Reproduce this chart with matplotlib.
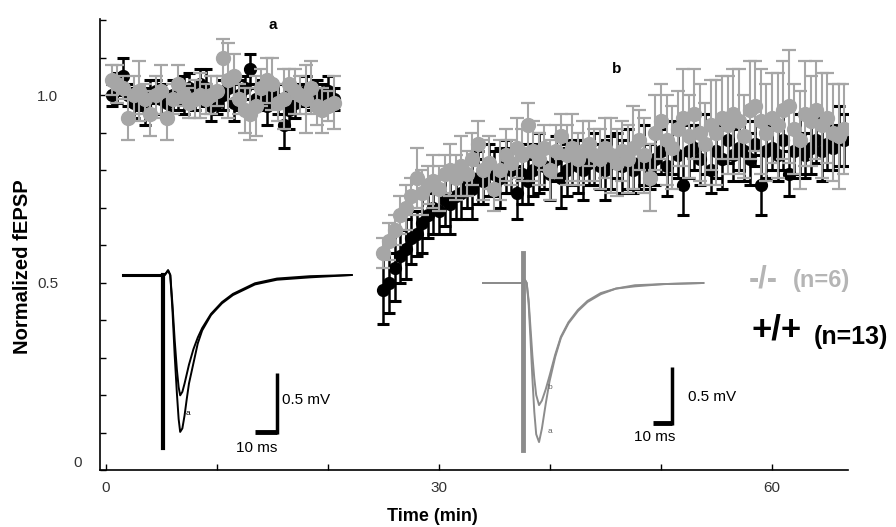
import numpy as np
import matplotlib
matplotlib.use('Agg')
import matplotlib.pyplot as plt

plt.rcParams['font.family'] = ['Liberation Sans', 'DejaVu Sans']

# ---- normalized fEPSP, sampled every 30 s ----
t_base = np.arange(0.5, 20.51, 0.5)
t_post = np.arange(25.0, 66.51, 0.5)

ko_base = [1.04, 1.03, 1.02, 0.94, 1.00, 1.01, 0.99, 0.95, 1.00, 1.01,
           0.94, 0.99, 1.03, 1.00, 0.98, 0.99, 1.00, 0.99, 1.00, 1.01,
           1.10, 1.04, 1.05, 0.99, 0.96, 0.95, 0.97, 1.02, 1.04, 1.03,
           0.98, 0.99, 1.03, 1.01, 1.00, 0.99, 1.02, 0.97, 0.96, 0.97, 0.98]
ko_base_err = [0.04, 0.05, 0.03, 0.06, 0.05, 0.08, 0.04, 0.06, 0.05, 0.07,
               0.06, 0.04, 0.05, 0.03, 0.04, 0.05, 0.06, 0.04, 0.05, 0.04,
               0.05, 0.10, 0.06, 0.04, 0.06, 0.07, 0.08, 0.05, 0.06, 0.07,
               0.05, 0.08, 0.04, 0.06, 0.05, 0.09, 0.07, 0.05, 0.06, 0.04, 0.07]
wt_base = [1.00, 1.02, 1.05, 1.00, 0.98, 0.99, 0.97, 1.00, 1.01, 0.99,
           0.98, 1.00, 0.99, 1.00, 1.02, 0.99, 1.03, 1.02, 0.97, 0.98,
           1.00, 1.02, 0.98, 1.00, 1.02, 1.07, 0.99, 1.00, 0.97, 1.00,
           0.99, 0.92, 0.96, 0.98, 1.00, 1.01, 0.99, 1.00, 1.00, 1.01, 0.99]
wt_base_err = [0.03, 0.04, 0.05, 0.03, 0.04, 0.03, 0.05, 0.04, 0.03, 0.04,
               0.03, 0.04, 0.03, 0.05, 0.04, 0.03, 0.04, 0.05, 0.04, 0.03,
               0.04, 0.03, 0.05, 0.04, 0.03, 0.04, 0.03, 0.04, 0.05, 0.03,
               0.04, 0.06, 0.05, 0.04, 0.03, 0.04, 0.03, 0.04, 0.03, 0.04, 0.03]

ko_post = [0.58, 0.61, 0.64, 0.68, 0.70, 0.73, 0.78, 0.74, 0.76, 0.77,
           0.75, 0.79, 0.80, 0.78, 0.81, 0.79, 0.83, 0.87, 0.80, 0.82,
           0.75, 0.80, 0.84, 0.82, 0.86, 0.84, 0.92, 0.85, 0.83, 0.86,
           0.80, 0.85, 0.89, 0.84, 0.86, 0.83, 0.85, 0.87, 0.84, 0.83,
           0.86, 0.84, 0.82, 0.85, 0.83, 0.86, 0.88, 0.84, 0.78, 0.90,
           0.93, 0.88, 0.86, 0.91, 0.94, 0.89, 0.95, 0.90, 0.87, 0.92,
           0.90, 0.94, 0.92, 0.95, 0.93, 0.89, 0.96, 0.97, 0.93, 0.90,
           0.94, 0.92, 0.96, 0.97, 0.91, 0.88, 0.95, 0.93, 0.96, 0.92,
           0.94, 0.90, 0.89, 0.91]
ko_post_err = [0.04, 0.05, 0.04, 0.05, 0.06, 0.05, 0.08, 0.06, 0.05, 0.07,
               0.06, 0.05, 0.07, 0.06, 0.08, 0.06, 0.07, 0.06, 0.08, 0.07,
               0.06, 0.08, 0.07, 0.06, 0.08, 0.07, 0.06, 0.08, 0.07, 0.06,
               0.08, 0.07, 0.06, 0.08, 0.09, 0.07, 0.08, 0.06, 0.07, 0.08,
               0.08, 0.10, 0.09, 0.08, 0.09, 0.11, 0.08, 0.10, 0.09, 0.10,
               0.10, 0.12, 0.11, 0.10, 0.13, 0.11, 0.12, 0.13, 0.11, 0.12,
               0.14, 0.11, 0.13, 0.12, 0.14, 0.11, 0.13, 0.12, 0.14, 0.13,
               0.12, 0.14, 0.13, 0.15, 0.12, 0.13, 0.14, 0.12, 0.13, 0.14,
               0.12, 0.13, 0.14, 0.12]
wt_post = [0.48, 0.50, 0.54, 0.57, 0.59, 0.62, 0.63, 0.66, 0.68, 0.70,
           0.69, 0.72, 0.71, 0.73, 0.74, 0.76, 0.75, 0.78, 0.77, 0.80,
           0.79, 0.78, 0.81, 0.80, 0.74, 0.79, 0.77, 0.80, 0.82, 0.81,
           0.79, 0.83, 0.78, 0.80, 0.82, 0.81, 0.80, 0.82, 0.83, 0.81,
           0.80, 0.82, 0.84, 0.81, 0.83, 0.80, 0.82, 0.84, 0.81, 0.83,
           0.85, 0.81, 0.86, 0.84, 0.76, 0.85, 0.86, 0.83, 0.87, 0.80,
           0.85, 0.83, 0.88, 0.84, 0.86, 0.85, 0.83, 0.87, 0.76, 0.85,
           0.86, 0.84, 0.88, 0.79, 0.85, 0.87, 0.84, 0.86, 0.88, 0.85,
           0.87, 0.86, 0.89, 0.88]
wt_post_err = [0.09, 0.08, 0.09, 0.07, 0.08, 0.07, 0.06, 0.08, 0.06, 0.07,
               0.06, 0.07, 0.08, 0.06, 0.07, 0.06, 0.08, 0.07, 0.06, 0.07,
               0.06, 0.08, 0.07, 0.06, 0.07, 0.08, 0.06, 0.07, 0.08, 0.06,
               0.07, 0.06, 0.08, 0.07, 0.06, 0.07, 0.08, 0.06, 0.07, 0.06,
               0.08, 0.07, 0.06, 0.07, 0.08, 0.06, 0.07, 0.08, 0.06, 0.07,
               0.06, 0.08, 0.07, 0.06, 0.08, 0.07, 0.06, 0.07, 0.08, 0.06,
               0.07, 0.08, 0.06, 0.07, 0.06, 0.08, 0.07, 0.06, 0.08, 0.07,
               0.06, 0.07, 0.08, 0.06, 0.07, 0.08, 0.06, 0.07, 0.06, 0.08,
               0.07, 0.06, 0.08, 0.07]

# ---- example fEPSP traces (ms, mV) ----
wt_trace_t = [0, 17.5, 19, 20.5, 21.5, 22.5, 23.5, 24.5, 25.3, 26, 27, 28, 29, 30, 32, 34, 36, 40, 45, 50, 60, 70, 85, 104]
wt_trace_b = [0, 0, 0, 0.04, 0.0, -0.25, -0.55, -0.80, -0.95, -1.02, -0.99, -0.92, -0.84, -0.76, -0.63, -0.53, -0.45, -0.33, -0.23, -0.16, -0.07, -0.03, -0.01, 0]
wt_trace_a = [0, 0, 0, 0.04, 0.0, -0.30, -0.68, -1.00, -1.22, -1.33, -1.30, -1.19, -1.05, -0.92, -0.75, -0.58, -0.47, -0.34, -0.24, -0.17, -0.08, -0.04, -0.02, 0]
ko_trace_t = [0, 20.5, 22, 23, 24, 25, 26, 27, 28, 29.5, 31, 33, 35, 38, 41, 45, 50, 55, 62, 70, 80, 95, 116]
ko_trace_b = [0, 0, 0.03, 0.0, -0.15, -0.40, -0.65, -0.85, -1.00, -1.09, -1.05, -0.95, -0.83, -0.64, -0.48, -0.35, -0.24, -0.16, -0.09, -0.05, -0.02, -0.01, 0]
ko_trace_a = [0, 0, 0.03, 0.0, -0.18, -0.50, -0.85, -1.15, -1.35, -1.42, -1.30, -1.08, -0.88, -0.66, -0.49, -0.36, -0.25, -0.17, -0.10, -0.05, -0.03, -0.01, 0]

GRAY = '#a6a6a6'

fig = plt.figure(figsize=(8.96, 5.27), dpi=100)
ax = fig.add_axes([100/896, 57/527, 748/896, 451/527])

ax.errorbar(t_base, wt_base, yerr=wt_base_err, fmt='o', color='black', ms=8.5,
            elinewidth=1.8, capsize=4.5, capthick=2.2, zorder=3)
ax.errorbar(t_post, wt_post, yerr=wt_post_err, fmt='o', color='black', ms=8.5,
            elinewidth=1.8, capsize=4.5, capthick=2.2, zorder=3)
ax.errorbar(t_base, ko_base, yerr=ko_base_err, fmt='o', color=GRAY, ms=10,
            elinewidth=1.5, capsize=5, capthick=1.6, zorder=4)
ax.errorbar(t_post, ko_post, yerr=ko_post_err, fmt='o', color=GRAY, ms=10,
            elinewidth=1.5, capsize=5, capthick=1.6, zorder=4)

ax.set_xlim(-0.54, 66.85)
ax.set_ylim(0, 1.203)
for s in ['top', 'right']:
    ax.spines[s].set_visible(False)
for s in ['left', 'bottom']:
    ax.spines[s].set_linewidth(1.2)

yt = np.round(np.arange(0, 1.21, 0.1), 1)
ax.set_yticks(yt)
ax.set_yticklabels(['%.1f' % v if v in (0.5, 1.0) else '' for v in yt])
ax.text(-2.6, 0.02, '0', fontsize=11, color='#333333', ha='center', va='center', clip_on=False)
ax.set_xticks(np.arange(0, 61, 10))
ax.set_xticklabels(['0', '', '', '30', '', '', '60'])
ax.tick_params(axis='y', direction='in', length=4, width=1, pad=30, labelsize=11, labelcolor='#333333')
ax.tick_params(axis='x', direction='in', length=4, width=1, pad=8, labelsize=11, labelcolor='#333333')

ax.set_xlabel('Time (min)', fontsize=13, fontweight='bold', va='center')
ax.xaxis.set_label_coords(0.445, -0.104)
ax.set_ylabel('Normalized fEPSP', fontsize=14.5, fontweight='bold', va='center')
ax.yaxis.set_label_coords(-0.103, 0.452)

ax.text(15.0, 1.187, 'a', fontsize=11, fontweight='bold', ha='center', va='center')
ax.text(46.0, 1.07, 'b', fontsize=11, fontweight='bold', ha='center', va='center')

# ---- inset: wild type trace ----
axl = fig.add_axes([110/896, 1 - 460/527, 260/896, 210/527])
axl.set_xlim(-5.9, 112.3)
axl.set_ylim(-1.568, 0.212)
axl.axis('off')
axl.patch.set_alpha(0)
axl.plot([0, 17.9], [0, 0], color='black', lw=2.2)
axl.plot([18, 18], [0, -1.47], color='black', lw=3)
axl.plot(wt_trace_t, wt_trace_b, color='black', lw=1.4)
axl.plot(wt_trace_t, wt_trace_a, color='black', lw=1.4)
axl.plot([60, 70], [-1.33, -1.33], color='black', lw=3.5, solid_capstyle='butt')
axl.plot([70, 70], [-1.35, -0.83], color='black', lw=2.5, solid_capstyle='butt')
axl.text(72.5, -1.06, '0.5 mV', fontsize=11, ha='left', va='center')
axl.text(61, -1.47, '10 ms', fontsize=11, ha='center', va='center')
axl.text(29.5, -1.17, 'a', fontsize=6, ha='center', va='center')

# ---- inset: knockout trace ----
axr = fig.add_axes([470/896, 1 - 460/527, 290/896, 215/527])
axr.set_xlim(-6.84, 145.8)
axr.set_ylim(-1.58, 0.339)
axr.axis('off')
axr.patch.set_alpha(0)
axr.plot(ko_trace_t, ko_trace_b, color='#8c8c8c', lw=1.4)
axr.plot(ko_trace_t, ko_trace_a, color='#8c8c8c', lw=1.4)
axr.plot([21, 21], [0.27, -1.49], color='#8c8c8c', lw=3.5)
axr.plot([89.5, 99.5], [-1.25, -1.25], color='black', lw=3.5, solid_capstyle='butt')
axr.plot([99.5, 99.5], [-1.27, -0.75], color='black', lw=2.5, solid_capstyle='butt')
axr.text(107.9, -1.02, '0.5 mV', fontsize=11, ha='left', va='center')
axr.text(90.5, -1.375, '10 ms', fontsize=11, ha='center', va='center')
axr.text(35, -0.93, 'b', fontsize=6, ha='center', va='center', color='#666666')
axr.text(35, -1.33, 'a', fontsize=6, ha='center', va='center', color='#666666')

# ---- genotype labels ----
fig.text(749/896, 1 - 280/527, '-/-', fontsize=22, fontweight='bold', color='#b5b5b5', ha='left', va='center')
fig.text(793/896, 1 - 281/527, '(n=6)', fontsize=17, fontweight='bold', color='#b5b5b5', ha='left', va='center')
fig.text(751/896, 1 - 330/527, '+/+', fontsize=25, fontweight='bold', color='black', ha='left', va='center')
fig.text(814/896, 1 - 337/527, '(n=13)', fontsize=18, fontweight='bold', color='black', ha='left', va='center')

fig.savefig('out.png', dpi=100)
